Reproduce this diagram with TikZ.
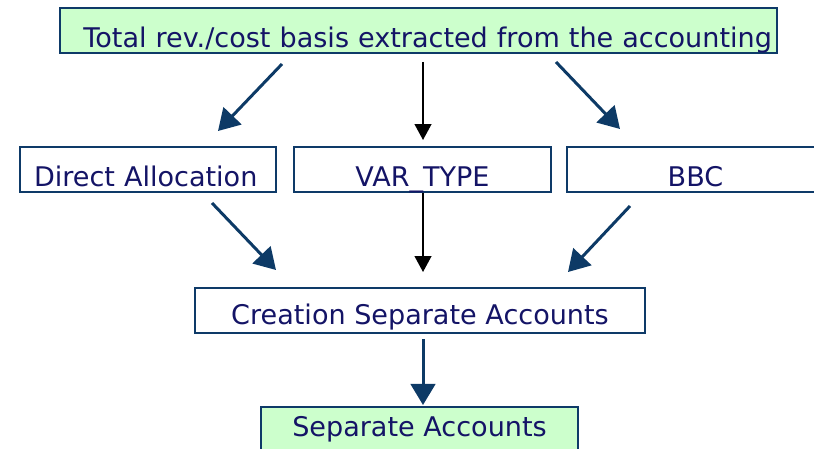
\documentclass[tikz,border=0pt]{standalone}
\usepackage{fontspec}
\setmainfont{DejaVu Sans}
\usetikzlibrary{arrows.meta}
\definecolor{txtnavy}{HTML}{141466}
\definecolor{boxblue}{HTML}{0E3A68}
\definecolor{arrblue}{HTML}{0D3A66}
\definecolor{boxgreen}{HTML}{CCFFCC}
\begin{document}
\begin{tikzpicture}[x=0.02cm, y=-0.02cm,
    box/.style={draw=boxblue, line width=1.6pt, text=txtnavy, inner ysep=0pt,
        minimum height=0.9cm, text height=19pt, text depth=0pt,
        font=\fontsize{15.4pt}{18pt}\selectfont},
    srcbox/.style={box, fill=boxgreen},
    bluearrow/.style={-{Triangle[length=12pt, width=14pt]}, line width=1.7pt, draw=arrblue, fill=arrblue},
    blackarrow/.style={-{Triangle[length=9pt, width=9.5pt]}, line width=0.9pt, black}]
    \useasboundingbox (0,0) rectangle (814,449);

    % boxes
    \node[srcbox, minimum width=14.34cm, text width=14.14cm, align=right, inner xsep=0.1cm]
        (total) at (418.5,30.5) {Total rev./cost basis extracted from the accounting};
    \node[box, minimum width=5.12cm, text width=4.56cm, align=left, inner xsep=0.28cm]
        (direct) at (148,169.5) {Direct Allocation};
    \node[box, minimum width=5.14cm] (vartype) at (422.5,169.5) {VAR\_TYPE};
    \node[box, minimum width=5.14cm] (bbc) at (695.5,169.5) {BBC};
    \node[box, minimum width=9cm, text height=16.5pt] (creation) at (420,310.5) {Creation Separate Accounts};
    \node[srcbox, minimum width=6.34cm, text height=8pt] (separate) at (419.5,429.5) {Separate Accounts};

    % free ends of the connectors
    \coordinate (total-l) at (282,64);
    \coordinate (total-m) at (423,62);
    \coordinate (total-r) at (556,62);
    \coordinate (direct-in) at (218,131);
    \coordinate (vartype-in) at (423,140);
    \coordinate (bbc-in) at (620,129);
    \coordinate (direct-out) at (212,203);
    \coordinate (vartype-out) at (423,193);
    \coordinate (bbc-out) at (630,206);
    \coordinate (creation-l) at (276,270);
    \coordinate (creation-m) at (423,272);
    \coordinate (creation-r) at (568,272);
    \coordinate (creation-out) at (423,339);
    \coordinate (separate-in) at (423,405);

    % first row
    \draw[bluearrow] (total-l) -- (direct-in);
    \draw[blackarrow] (total-m) -- (vartype-in);
    \draw[bluearrow] (total-r) -- (bbc-in);

    % second row
    \draw[bluearrow] (direct-out) -- (creation-l);
    \draw[blackarrow] (vartype-out) -- (creation-m);
    \draw[bluearrow] (bbc-out) -- (creation-r);

    % result
    \draw[bluearrow] (creation-out) -- (separate-in);
\end{tikzpicture}
\end{document}
